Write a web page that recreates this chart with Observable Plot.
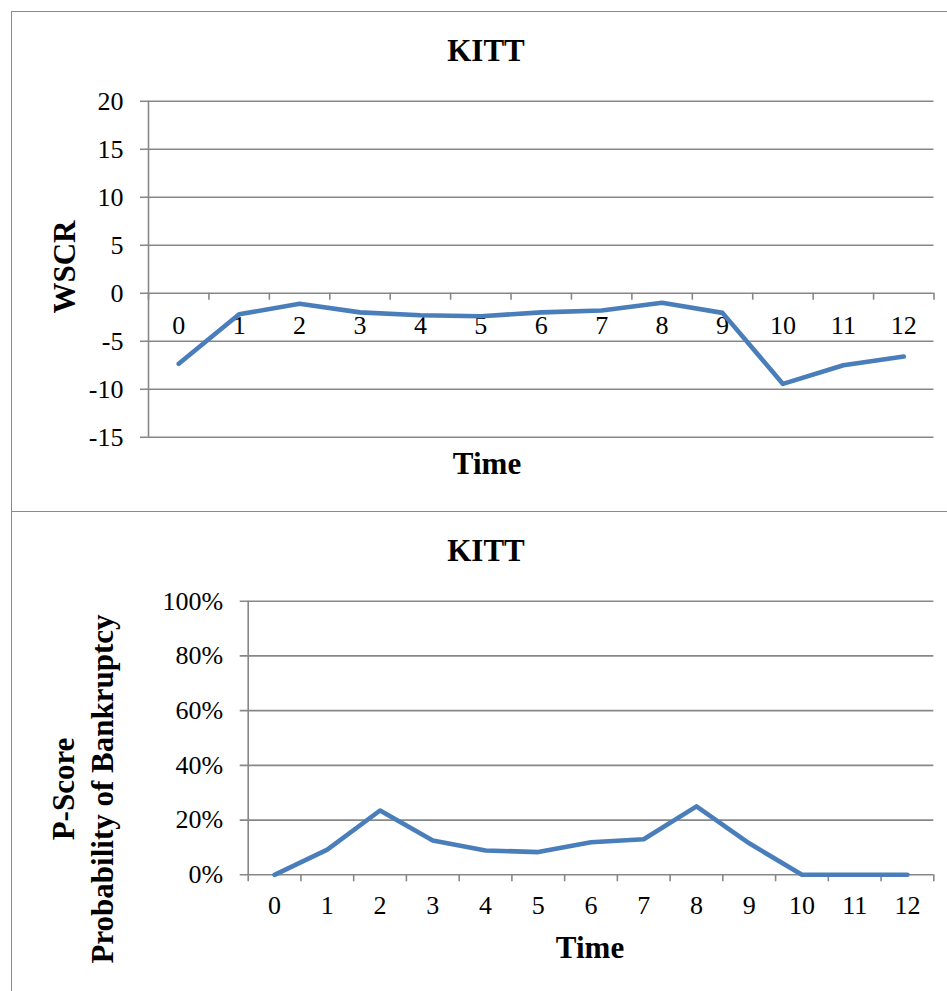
<!DOCTYPE html>
<html><head><meta charset="utf-8">
<script src="https://cdn.jsdelivr.net/npm/d3@7"></script>
<script src="https://cdn.jsdelivr.net/npm/@observablehq/plot@0.6"></script>
<style>
body{margin:0;background:#fff;}
#wrap{position:relative;width:947px;height:991px;overflow:hidden;font-family:"Liberation Serif","Times New Roman",serif;background:#fff;}
.lbl{position:absolute;font-weight:bold;font-size:31px;white-space:nowrap;transform:translate(-50%,-50%);line-height:39px;text-align:center;color:#000;}
.rot{transform:translate(-50%,-50%) rotate(-90deg);}
.panel{position:absolute;left:0;}
.bx{position:absolute;background:#8a8a8a;}
</style></head><body><div id="wrap"></div>
<script>
// ---- data ----
const times = [0,1,2,3,4,5,6,7,8,9,10,11,12];
const wscr = [-7.35,-2.2,-1.1,-2.0,-2.3,-2.4,-2.0,-1.8,-1.0,-2.05,-9.45,-7.5,-6.6];
const pscore = [0,0.092,0.235,0.125,0.089,0.083,0.119,0.13,0.25,0.115,0,0,0];
const wscrTicks = [-15,-10,-5,0,5,10,15,20];
const pTicks = [0,0.2,0.4,0.6,0.8,1];
const chartTitle = "KITT";
const xTitle = "Time";
const yTitleTop = "WSCR";
const yTitleBottom = ["P-Score","Probability of Bankruptcy"];

const gray = "#878787", blue = "#4A7EBB";
const wrap = document.getElementById("wrap");

function panel({values, yDomain, yTicks, fmt, top, height, mL, mR, mT, mB, labelDy}) {
  const rows = times.map((t,i)=>({t, v: values[i]}));
  const bounds = times.map(t=>t-0.5).concat([times[times.length-1]+0.5]);
  const pxPerUnit = (height - mT - mB) / (yDomain[1]-yDomain[0]);
  const tickLen = 7 / pxPerUnit;
  const svg = Plot.plot({
    width: 947, height,
    marginLeft: mL, marginRight: mR, marginTop: mT, marginBottom: mB,
    style: {fontFamily: '"Liberation Serif","Times New Roman",serif', fontSize: "26px", color: "#000", background: "transparent"},
    x: {type: "linear", domain: [bounds[0], bounds[bounds.length-1]], axis: null},
    y: {domain: yDomain, ticks: yTicks, tickFormat: fmt, tickSize: 0, tickPadding: 25, label: null},
    marks: [
      Plot.ruleY(yTicks, {y: d=>d, stroke: gray, strokeWidth: 1.6, insetLeft: -8}),
      Plot.ruleX([bounds[0]], {x: d=>d, stroke: gray, strokeWidth: 1.6}),
      Plot.ruleX(bounds, {x: d=>d, y1: 0, y2: -tickLen, stroke: gray, strokeWidth: 1.6}),
      Plot.text(times, {x: d=>d, y: 0, dy: labelDy, text: d=>String(d), fontSize: 26, fill: "#000"}),
      Plot.line(rows, {x: "t", y: "v", stroke: blue, strokeWidth: 4.6, strokeLinejoin: "round", strokeLinecap: "round"})
    ]
  });
  svg.classList.add("panel");
  svg.style.top = top + "px";
  svg.style.position = "absolute";
  wrap.appendChild(svg);
}

// box lines
function box(l,t,w,h){const d=document.createElement("div");d.className="bx";Object.assign(d.style,{left:l+"px",top:t+"px",width:w+"px",height:h+"px"});wrap.appendChild(d);}
box(10.5,10.5,940,1.2);
box(10.5,10.5,1.2,990);
box(10.5,510.5,940,1.2);

panel({values: wscr, yDomain: [-15,20], yTicks: wscrTicks, fmt: d=>String(d),
  top: 0, height: 500, mL: 148, mR: 13.5, mT: 100.7, mB: 63.3, labelDy: 32});
panel({values: pscore, yDomain: [0,1], yTicks: pTicks, fmt: d=>Math.round(d*100)+"%",
  top: 500, height: 491, mL: 247.7, mR: 13.7, mT: 100.7, mB: 116.7, labelDy: 31});

function label(text, x, y, rot){const d=document.createElement("div");d.className="lbl"+(rot?" rot":"");d.innerHTML=text;d.style.left=x+"px";d.style.top=y+"px";wrap.appendChild(d);}
label(chartTitle, 486, 50);
label(xTitle, 487, 463);
label(yTitleTop, 64, 267, true);
label(chartTitle, 486, 550);
label(xTitle, 590, 947);
label(yTitleBottom.join("<br>"), 83, 789, true);
</script>
</body></html>
